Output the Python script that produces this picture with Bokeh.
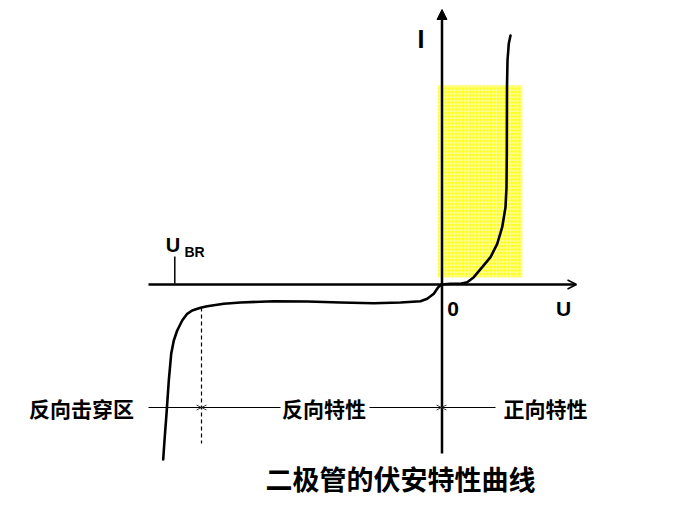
from bokeh.plotting import figure
from bokeh.models import Range1d, Arrow, OpenHead, NormalHead
from bokeh.core.properties import value
from bokeh.embed import file_html
from bokeh.resources import INLINE

# Forward characteristic (U, I) in arbitrary units, origin at (0, 0)
fwd_u = [0, 9, 19, 25.7, 32.3, 40.7, 49, 55.7, 60.7, 64, 65, 65.3, 65.5, 66, 67.3, 69]
fwd_i = [0, 0.7, 0.7, 2.3, 7.3, 17.3, 27.3, 40.7, 57.3, 77.3, 97.3, 131, 197.3, 224, 241, 249]

# Reverse characteristic incl. breakdown
rev_u = [0, -3.3, -7.7, -14.3, -21, -41, -67.7, -101, -134.3, -167.7, -201, -217.7,
         -234.3, -241, -249.3, -254.3, -259.3, -264.3, -267.7, -270.3, -272.7, -275, -277, -278.3]
rev_i = [0, -2.7, -9.3, -14.3, -16.7, -18, -18.7, -18, -17, -16.7, -18, -19.3,
         -21.7, -23.3, -26, -29.3, -36, -46, -56, -69.3, -96, -129.3, -156, -175]

# Region labels
region_labels = ["反向击穿区", "反向特性", "正向特性"]
title_text = "二极管的伏安特性曲线"

X0, Y0 = 441, 284  # reference pixel of origin (for layout only)
W, H = 683, 501

p = figure(width=W, height=H, output_backend="svg", toolbar_location=None,
           x_range=Range1d(0 - X0, W - X0), y_range=Range1d(Y0 - H, Y0 - 0),
           x_axis_location=None, y_axis_location=None, min_border=0,
           background_fill_color="white", border_fill_color="white")
p.grid.visible = False
p.outline_line_color = None

# Yellow highlighted forward region
p.quad(left=[-3.3], right=[80.7], bottom=[7.3], top=[199], fill_color="#FFFF0A", fill_alpha=1.0,
       line_color=None, hatch_pattern="+", hatch_color="#FFFFA8", hatch_scale=3.5, hatch_weight=1, hatch_alpha=1.0)

# Curves
p.line(fwd_u, fwd_i, line_color="black", line_width=2.6, line_join="round", line_cap="round")
p.line(rev_u, rev_i, line_color="black", line_width=2.6, line_join="round", line_cap="round")

# Axes
p.add_layout(Arrow(x_start=-293, y_start=0, x_end=135, y_end=0, line_width=2.5, line_color="black",
                   end=OpenHead(size=9, line_width=1.5, line_color="black")))
p.add_layout(Arrow(x_start=0.5, y_start=-169, x_end=0.5, y_end=275, line_width=2.5, line_color="black",
                   end=NormalHead(size=10, line_color="black", fill_color="black")))

# U_BR tick
p.segment(x0=[-266.7], y0=[1], x1=[-266.7], y1=[28], line_color="black", line_width=1.5)

# dashed boundary
p.segment(x0=[-240], y0=[-23], x1=[-240], y1=[-159], line_color="black", line_width=1.2, line_dash="4 3")

# Dimension arrows
dim_y = -123
hc = "#444444"
for xs, xe in [(-293, -240), (-161, -240), (-72, 0), (54, 0)]:
    p.add_layout(Arrow(x_start=xs, y_start=dim_y, x_end=xe, y_end=dim_y, line_width=1, line_color="black",
                       end=OpenHead(size=5, line_width=1, line_color=hc)))

cjk = value("Noto Sans CJK SC")
lat = value("Liberation Sans")

# Region labels
p.text(x=[-360, -117.5, 104], y=[dim_y, dim_y, dim_y], text=region_labels, text_font=cjk,
       text_font_size="21px", text_font_style="bold", text_align="center", text_baseline="middle",
       text_color="black")
# Title
p.text(x=[-41], y=[-193.5], text=[title_text], text_font=cjk, text_font_size="27px",
       text_font_style="bold", text_align="center", text_baseline="middle", text_color="black")

# Axis labels
p.text(x=[-20.5], y=[246], text=["I"], text_font=lat, text_font_size="25px", text_font_style="bold",
       text_align="center", text_baseline="alphabetic", text_color="black")
p.text(x=[11.5, 122], y=[-24, -24], text=["0", "U"], text_font=lat, text_font_size="21px",
       text_font_style="bold", text_align="center", text_baseline="alphabetic", text_color="black")
p.text(x=[-268.5], y=[39.5], text=["U"], text_font=lat, text_font_size="20px", text_font_style="bold",
       text_align="center", text_baseline="alphabetic", text_color="black")
p.text(x=[-247], y=[33], text=["BR"], text_font=lat, text_font_size="14px", text_font_style="bold",
       text_align="center", text_baseline="alphabetic", text_color="black")

open("out.html", "w").write(file_html(p, INLINE))
